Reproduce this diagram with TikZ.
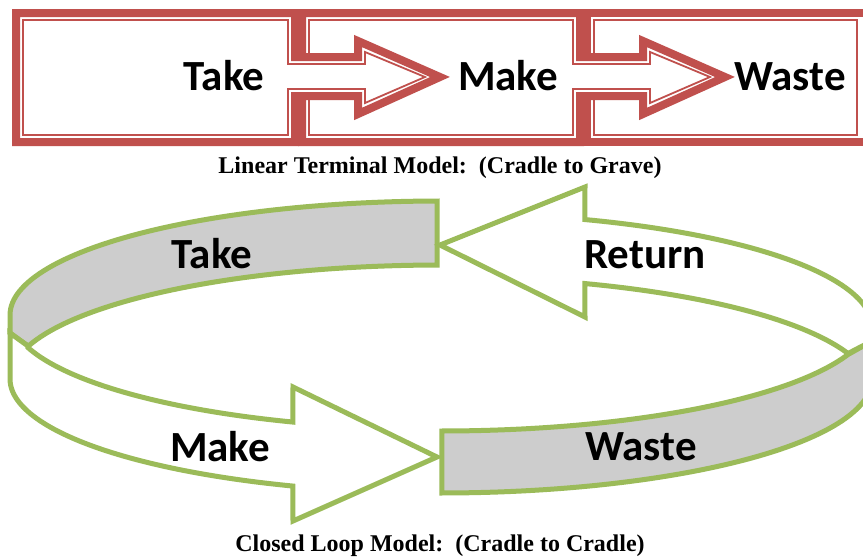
\documentclass[tikz,border=0pt]{standalone}
\usepackage{fontspec}
\newfontfamily\lblfont{Carlito}
\newfontfamily\capfont{Liberation Serif}
\definecolor{redc}{HTML}{C0504D}
\definecolor{grn}{HTML}{9BBB59}
\definecolor{gfill}{HTML}{CDCDCD}
\begin{document}
\begin{tikzpicture}[x=1pt,y=-1pt,
  rbox/.style={draw=redc,line width=8pt,fill=white,line join=miter},
  rthin/.style={draw=redc,line width=1.8pt,line join=miter},
  gband/.style={draw=grn,line width=5pt,line join=miter,fill=gfill},
  warrow/.style={draw=grn,line width=5pt,line join=miter,fill=white},
  lbl/.style={font=\lblfont\bfseries\fontsize{43}{50}\selectfont,anchor=base,inner sep=0pt},
  captxt/.style={font=\capfont\bfseries\fontsize{24}{28}\selectfont,anchor=base,inner sep=0pt}]
\useasboundingbox (0,0) rectangle (863,557);
\fill[white] (0,0) rectangle (863,557);
\begin{scope}
\clip (0,0) rectangle (863,557);
% ---------- linear model ----------
% box 3
\draw[rbox] (587,13) -- (868,13) -- (868,142) -- (587,142) -- cycle;
\draw[rthin] (594,20) -- (857,20) -- (857,135) -- (594,135) -- cycle;
% box 2
\draw[rbox] (302,13) -- (580,13) -- (580,57) -- (643,57) -- (643,41) -- (725,77) -- (643,114) -- (643,96) -- (580,96) -- (580,142) -- (302,142) -- cycle;
\draw[rthin] (309,20) -- (573,20) -- (573,64) -- (650,64) -- (650,52) -- (710,77) -- (650,103) -- (650,89) -- (573,89) -- (573,135) -- (309,135) -- cycle;
% box 1
\draw[rbox] (16,13) -- (295,13) -- (295,57) -- (358,57) -- (358,41) -- (440,77) -- (358,114) -- (358,96) -- (295,96) -- (295,142) -- (16,142) -- cycle;
\draw[rthin] (23,20) -- (288,20) -- (288,64) -- (365,64) -- (365,52) -- (425,77) -- (365,103) -- (365,89) -- (288,89) -- (288,135) -- (23,135) -- cycle;
% ---------- closed loop ----------
% Take band (back, inner surface)
\draw[gband] plot[domain=90.5:180,samples=60] ({441+431*cos(\x)},{315-114*sin(\x)}) -- (10,333) -- (28,346)
  -- plot[domain=163.4:90.5,samples=60] ({441+431*cos(\x)},{379-114*sin(\x)}) -- cycle;
% Waste band (front right)
\draw[gband] plot[domain=270.1:340.8,samples=60] ({441+431*cos(\x)},{317-114*sin(\x)}) -- (872,341) -- (872,379)
  -- plot[domain=360:270.1,samples=60] ({441+431*cos(\x)},{379-114*sin(\x)}) -- cycle;
% Return arrow
\draw[warrow] (440,245) -- (585,187)
  -- plot[domain=70.5:0,samples=60] ({441+431*cos(\x)},{327-114*sin(\x)}) -- (872,341)
  -- plot[domain=19.2:70.5,samples=60] ({441+431*cos(\x)},{391-114*sin(\x)}) -- (585,317) -- cycle;
% Make arrow
\draw[warrow] (28,346) -- plot[domain=196.6:249.9,samples=60] ({441+431*cos(\x)},{315-114*sin(\x)})
  -- (293,387) -- (437,457) -- (293,521)
  -- plot[domain=249.9:180,samples=60] ({441+431*cos(\x)},{379-114*sin(\x)}) -- (10,333) -- cycle;
\end{scope}
% labels
\node[lbl] (ltake) at (224,90) {Take};
\node[lbl] (lmake) at (508,90) {Make};
\node[lbl] (lwaste) at (790,90) {Waste};
\node[captxt] (cap1) at (440,173) {Linear Terminal Model:\hspace{0.5em}(Cradle to Grave)};
\node[lbl] (ctake) at (212,268) {Take};
\node[lbl] (creturn) at (645,268) {Return};
\node[lbl] (cmake) at (220,461) {Make};
\node[lbl] (cwaste) at (641,460) {Waste};
\node[captxt] (cap2) at (440,551) {Closed Loop Model:\hspace{0.5em}(Cradle to Cradle)};
\end{tikzpicture}
\end{document}
